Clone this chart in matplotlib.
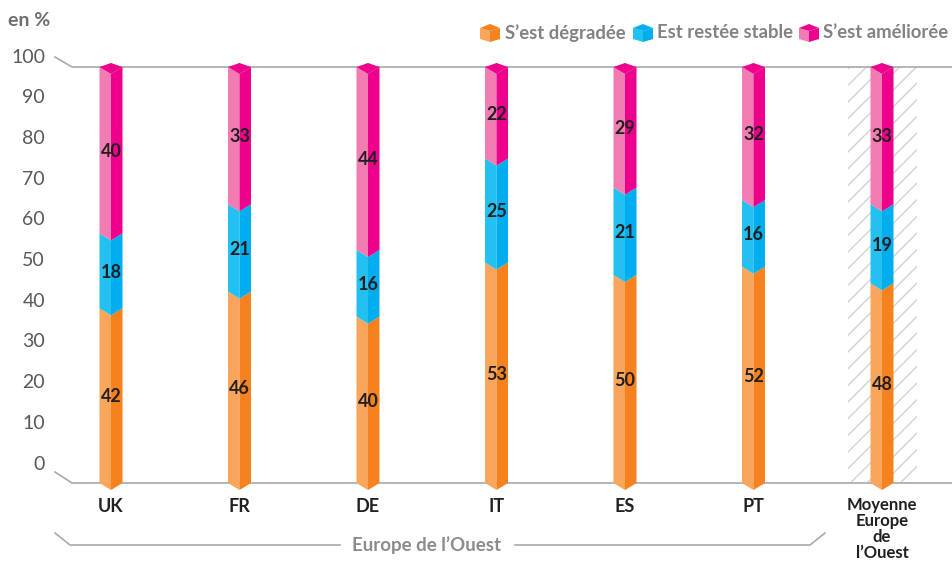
import matplotlib
matplotlib.use('Agg')
import matplotlib.pyplot as plt
from matplotlib.patches import Polygon, Rectangle

# ---------------- data ----------------
categories = ['UK', 'FR', 'DE', 'IT', 'ES', 'PT', 'Moyenne\nEurope\nde\nl\u2019Ouest']
degraded = [42, 46, 40, 53, 50, 52, 48]
stable = [18, 21, 16, 25, 21, 16, 19]
improved = [40, 33, 44, 22, 29, 32, 33]
series_labels = ['S\u2019est dégradée', 'Est restée stable', 'S\u2019est améliorée']
yticks = [0, 10, 20, 30, 40, 50, 60, 70, 80, 90, 100]
group_label = 'Europe de l\u2019Ouest'
unit_label = 'en %'

# ---------------- style ----------------
plt.rcParams['font.family'] = ['Lato', 'DejaVu Sans']
colors = [('#F9A55B', '#F5821F'), ('#22C1F1', '#00AEEF'), ('#F27BB1', '#EC008C')]
W, H = 952, 563
fig = plt.figure(figsize=(W / 100, H / 100), dpi=100)
fig.patch.set_facecolor('white')

# axes: x px 72..952, y px 483 (0) .. 67 (100)
ax = fig.add_axes([72 / W, (H - 483) / H, (952 - 72) / W, (483 - 67) / H])
px_per_cat = 128.5
x0px = 111
ax.set_xlim((72 - x0px) / px_per_cat, (952 - x0px) / px_per_cat)
ax.set_ylim(0, 100)
ax.axis('off')
ppu = 416 / 100.0  # pixels per y unit


def px2x(px):
    return (px - x0px) / px_per_cat


def py2y(py):
    return (483 - py) / ppu


grey = '#A7A9AC'
# axis lines (baseline and 100 line) with perspective diagonals
ax.plot([px2x(55), px2x(72), px2x(952)], [py2y(472), 0, 0], color=grey, lw=1.2, clip_on=False, zorder=2)
ax.plot([px2x(55), px2x(72), px2x(952)], [py2y(57), 100, 100], color=grey, lw=1.2, clip_on=False, zorder=2)

# tick labels (back plane)
for v in yticks:
    ypx = 464 - 4.07 * v
    ax.text(px2x(45), py2y(ypx), str(v), ha='right', va='center', fontsize=14,
            fontweight='normal', color='#58595B', clip_on=False)

# hatched band behind average
hatch_rect = Rectangle((px2x(848), 0), px2x(917) - px2x(848), 100, facecolor='none',
                       edgecolor='#D1D3D4', hatch='//', lw=0, zorder=1)
ax.add_patch(hatch_rect)

hw = 11.5 / px_per_cat
d = 7 / ppu
up = 4 / ppu

for i in range(len(categories)):
    vals = [degraded[i], stable[i], improved[i]]
    b = 0
    for j, v in enumerate(vals):
        t = b + v
        light, dark = colors[j]
        left = [(i - hw, t), (i, t - d), (i, b - d), (i - hw, b)]
        right = [(i, t - d), (i + hw, t), (i + hw, b), (i, b - d)]
        ax.add_patch(Polygon(left, closed=True, facecolor=light, edgecolor='none', zorder=3, clip_on=False))
        ax.add_patch(Polygon(right, closed=True, facecolor=dark, edgecolor='none', zorder=3, clip_on=False))
        if j == len(vals) - 1:
            top = [(i - hw, t), (i, t + up), (i + hw, t), (i, t - d)]
            ax.add_patch(Polygon(top, closed=True, facecolor=dark, edgecolor='none', zorder=3, clip_on=False))
        ax.text(i, (b + t) / 2 - 0.3, str(v), ha='center', va='center', fontsize=13,
                fontweight='bold', color='#231F20', zorder=5)
        b = t

# category labels
for i, c in enumerate(categories):
    if '\n' in c:
        ax.text(i, py2y(497), c, ha='center', va='top', fontsize=12, fontweight='bold',
                color='#231F20', linespacing=1.0, clip_on=False)
    else:
        ax.text(i, py2y(507), c, ha='center', va='center', fontsize=13, fontweight='bold',
                color='#231F20', clip_on=False)

# group bracket
yb = py2y(545)
ax.plot([px2x(55), px2x(70), px2x(340)], [py2y(533), yb, yb], color=grey, lw=1.2, clip_on=False)
ax.plot([px2x(515), px2x(810), px2x(825)], [yb, yb, py2y(533)], color=grey, lw=1.2, clip_on=False)
ax.text(px2x(427), yb, group_label, ha='center', va='center', fontsize=13.5, fontweight='bold',
        color='#8A8C8E', clip_on=False)

# unit label
fig.text(8 / W, 1 - 20 / H, unit_label, ha='left', va='center', fontsize=14, fontweight='bold',
         color='#6D6E71')


# legend (manual, top right) with small cube icons
def fpt(xpx, ypx):
    return (xpx / W, 1 - ypx / H)


leg_icon_x = [480, 633, 799]
leg_text_x = [505, 657, 823]
for k, lab in enumerate(series_labels):
    light, dark = colors[k]
    x = leg_icon_x[k]
    yt, yb2 = 24, 42
    xm, xr = x + 10, x + 20
    left_face = [fpt(x, yt + 4), fpt(xm, yt + 7), fpt(xm, yb2), fpt(x, yb2 - 3)]
    right_face = [fpt(xm, yt + 7), fpt(xr, yt + 4), fpt(xr, yb2 - 3), fpt(xm, yb2)]
    top_face = [fpt(x, yt + 4), fpt(xm, yt), fpt(xr, yt + 4), fpt(xm, yt + 7)]
    for poly, col in ((left_face, light), (right_face, dark), (top_face, dark)):
        fig.patches.append(Polygon(poly, closed=True, transform=fig.transFigure,
                                   facecolor=col, edgecolor='none'))
    fig.text(leg_text_x[k] / W, 1 - 33 / H, lab, ha='left', va='center', fontsize=13.3,
             fontweight='bold', color='#808285')

fig.savefig('out.png', dpi=100, facecolor='white')
